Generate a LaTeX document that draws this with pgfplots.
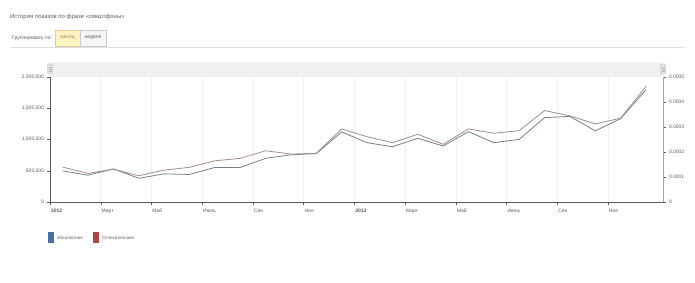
\documentclass[border=0pt]{standalone}
\usepackage{fontspec}
\setmainfont{Liberation Sans}
\usepackage{pgfplots}
\pgfplotsset{compat=1.18}
\definecolor{absc}{RGB}{118,124,136}
\definecolor{relc}{RGB}{165,138,138}
\definecolor{legblue}{RGB}{74,111,165}
\definecolor{legred}{RGB}{170,70,67}
\definecolor{txt}{RGB}{90,90,90}
\begin{document}
\begin{tikzpicture}
\useasboundingbox (0,0) rectangle (695bp,-283bp);
\begin{scope}[x=1bp,y=-1bp]
  \node[anchor=west,font=\fontsize{6}{7}\selectfont,text=txt,inner sep=0] at (10,17) {История показов по фразе «смартфоны»};
  \node[anchor=west,font=\fontsize{5}{6}\selectfont,text=txt,inner sep=0] at (12,38) {Группировать по:};
  \filldraw[fill={rgb,255:red,255;green,243;blue,196},draw={rgb,255:red,225;green,205;blue,150},line width=0.4bp] (55,30) rectangle (80,46);
  \node[font=\fontsize{5}{6}\selectfont,text={rgb,255:red,170;green,130;blue,60},inner sep=0] at (67.5,38) {месяц};
  \filldraw[fill=gray!8,draw=gray!40,line width=0.4bp] (80,30) rectangle (106,46);
  \node[font=\fontsize{5}{6}\selectfont,text=txt,inner sep=0] at (93,38) {неделя};
  \draw[gray!25,line width=0.5bp] (10,47.5) -- (685,47.5);
  \fill[gray!12] (50,62) rectangle (663,77);
  \filldraw[fill=gray!20,draw=gray!60,line width=0.4bp,rounded corners=0.8bp] (47.5,64) rectangle (52.5,74);
  \filldraw[fill=gray!20,draw=gray!60,line width=0.4bp,rounded corners=0.8bp] (660.5,64) rectangle (665.5,74);
  \foreach \yy in {67,69,71} {\draw[gray!60,line width=0.3bp] (48.5,\yy) -- (51.5,\yy); \draw[gray!60,line width=0.3bp] (661.5,\yy) -- (664.5,\yy);}
  \fill[legblue] (48,232) rectangle (54,243);
  \node[anchor=west,font=\fontsize{4.5}{5}\selectfont,text=txt,inner sep=0] at (57,237.5) {Абсолютное};
  \fill[legred] (93,232) rectangle (99,243);
  \node[anchor=west,font=\fontsize{4.5}{5}\selectfont,text=txt,inner sep=0] at (102,237.5) {Относительное};
\end{scope}
\begin{axis}[
  at={(50bp,-202bp)}, anchor=south west,
  scale only axis, width=613bp, height=125bp,
  xmin=0, xmax=24.17, ymin=0, ymax=2000000,
  axis x line=bottom, axis y line=left,
  axis line style={-, draw=gray!70!black, line width=0.6bp},
  xtick={0,2,...,22},
  xticklabels={\textbf{2012},Март,Май,Июль,Сен,Ноя,\textbf{2013},Март,Май,Июль,Сен,Ноя},
  xticklabel style={anchor=north west, xshift=-2.5bp, yshift=-1bp, font=\fontsize{5}{6}\selectfont, text=txt},
  ytick={0,500000,1000000,1500000,2000000},
  yticklabels={0,{500,000},{1,000,000},{1,500,000},{2,000,000}},
  yticklabel style={font=\fontsize{5}{6}\selectfont, text=txt},
  scaled y ticks=false,
  tick align=outside, major tick length=2.5bp,
  tick style={gray!70!black, line width=0.4bp},
  xmajorgrids, grid style={gray!12, line width=0.5bp},
  clip=false,
]
\addplot[absc, line width=0.8bp] coordinates {
(0.5,498000) (1.5,429000) (2.5,530000) (3.5,380000) (4.5,450000) (5.5,441000)
(6.5,553000) (7.5,553000) (8.5,698000) (9.5,755000) (10.5,775000) (11.5,1121000)
(12.5,949000) (13.5,884000) (14.5,1019000) (15.5,896000) (16.5,1125000) (17.5,949000)
(18.5,1003000) (19.5,1350000) (20.5,1370000) (21.5,1137000) (22.5,1335000) (23.5,1796000)
};
\end{axis}
\begin{axis}[
  at={(50bp,-202bp)}, anchor=south west,
  scale only axis, width=613bp, height=125bp,
  xmin=0, xmax=24.17, ymin=0, ymax=0.0005,
  axis x line=none, axis y line=right,
  axis line style={-, draw=gray!70, line width=0.6bp},
  ytick={0,0.0001,0.0002,0.0003,0.0004,0.0005},
  yticklabels={0,0.0001,0.0002,0.0003,0.0004,0.0005},
  yticklabel style={font=\fontsize{5}{6}\selectfont, text=txt},
  scaled y ticks=false,
  tick align=outside, major tick length=2.5bp,
  tick style={gray!70!black, line width=0.4bp},
  clip=false,
]
\addplot[relc, line width=0.8bp] coordinates {
(0.5,0.0001395) (1.5,0.0001143) (2.5,0.0001313) (3.5,0.000105) (4.5,0.0001275) (5.5,0.0001388)
(6.5,0.0001648) (7.5,0.0001745) (8.5,0.000205) (9.5,0.0001918) (10.5,0.0001945) (11.5,0.0002923)
(12.5,0.0002613) (13.5,0.0002373) (14.5,0.0002708) (15.5,0.0002308) (16.5,0.0002923) (17.5,0.000275)
(18.5,0.0002853) (19.5,0.0003658) (20.5,0.0003445) (21.5,0.0003123) (22.5,0.0003353) (23.5,0.0004623)
};
\end{axis}
\end{tikzpicture}
\end{document}
